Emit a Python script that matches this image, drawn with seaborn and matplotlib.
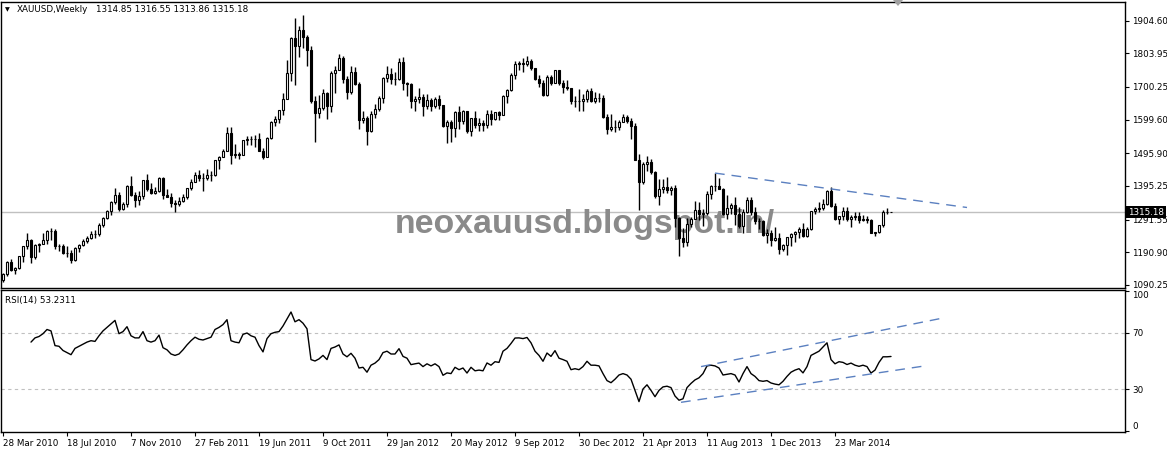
import matplotlib
matplotlib.use("Agg")
import matplotlib.pyplot as plt
from matplotlib.patches import Polygon
import seaborn as sns
import numpy as np
import pandas as pd

# weekly XAUUSD bars, first bar = week of 28 Mar 2010
opens = [
    1105, 1125, 1161, 1136, 1142, 1179, 1209, 1228, 1177, 1212, 1217, 1228, 1256, 1256, 1210, 1210,
    1189, 1189, 1168, 1204, 1214, 1227, 1234, 1246, 1246, 1275, 1298, 1318, 1345, 1368, 1325, 1340,
    1394, 1367, 1352, 1363, 1413, 1385, 1375, 1380, 1421, 1369, 1360, 1343, 1341, 1349, 1362, 1388,
    1409, 1429, 1421, 1419, 1428, 1429, 1474, 1486, 1504, 1557, 1491, 1493, 1491, 1536, 1541, 1541,
    1539, 1502, 1486, 1542, 1592, 1602, 1628, 1663, 1742, 1852, 1828, 1876, 1855, 1813, 1657, 1620,
    1636, 1682, 1642, 1743, 1752, 1788, 1724, 1686, 1746, 1710, 1597, 1606, 1565, 1617, 1631, 1665,
    1727, 1740, 1725, 1725, 1776, 1711, 1709, 1656, 1663, 1668, 1642, 1660, 1642, 1663, 1644, 1579,
    1592, 1573, 1622, 1595, 1627, 1566, 1604, 1582, 1590, 1584, 1618, 1603, 1622, 1615, 1672, 1692,
    1738, 1770, 1773, 1772, 1780, 1758, 1724, 1712, 1677, 1731, 1714, 1751, 1712, 1701, 1696, 1657,
    1658, 1657, 1662, 1687, 1657, 1667, 1667, 1609, 1572, 1576, 1577, 1592, 1608, 1596, 1581, 1476,
    1406, 1462, 1470, 1437, 1365, 1387, 1393, 1383, 1388, 1298, 1234, 1223, 1278, 1294, 1322, 1310,
    1312, 1371, 1396, 1395, 1387, 1308, 1326, 1338, 1310, 1272, 1314, 1352, 1315, 1287, 1288, 1244,
    1250, 1230, 1235, 1202, 1212, 1238, 1247, 1254, 1264, 1240, 1262, 1318, 1323, 1327, 1339, 1379,
    1335, 1294, 1303, 1318, 1294, 1300, 1302, 1289, 1293, 1292, 1250, 1252, 1274, 1315, 1314.85,
]
highs = [
    1127, 1164, 1170, 1146, 1180, 1210, 1249, 1232, 1218, 1221, 1250, 1261, 1265, 1262, 1218, 1215,
    1209, 1197, 1206, 1215, 1232, 1240, 1256, 1260, 1280, 1301, 1320, 1348, 1388, 1378, 1345, 1398,
    1425, 1376, 1380, 1415, 1432, 1405, 1392, 1424, 1424, 1387, 1375, 1351, 1360, 1370, 1389, 1416,
    1438, 1445, 1435, 1447, 1440, 1476, 1487, 1510, 1576, 1577, 1524, 1500, 1538, 1550, 1549, 1552,
    1559, 1512, 1545, 1594, 1610, 1628, 1682, 1782, 1853, 1912, 1889, 1921, 1860, 1826, 1672, 1675,
    1694, 1686, 1749, 1764, 1802, 1796, 1735, 1764, 1763, 1715, 1625, 1612, 1625, 1648, 1671, 1730,
    1764, 1760, 1745, 1790, 1792, 1716, 1713, 1673, 1697, 1680, 1678, 1667, 1668, 1675, 1646, 1598,
    1597, 1627, 1642, 1628, 1627, 1605, 1626, 1604, 1597, 1629, 1628, 1623, 1626, 1675, 1693, 1742,
    1779, 1780, 1788, 1796, 1786, 1760, 1737, 1723, 1738, 1737, 1754, 1754, 1723, 1721, 1698, 1671,
    1694, 1680, 1694, 1696, 1685, 1683, 1675, 1617, 1617, 1597, 1597, 1616, 1615, 1605, 1590, 1495,
    1469, 1488, 1477, 1440, 1417, 1417, 1424, 1395, 1398, 1300, 1267, 1297, 1299, 1348, 1347, 1323,
    1380, 1398, 1434, 1420, 1389, 1369, 1343, 1362, 1330, 1325, 1361, 1362, 1329, 1297, 1292, 1263,
    1261, 1268, 1250, 1216, 1239, 1249, 1256, 1270, 1280, 1268, 1318, 1332, 1345, 1355, 1384, 1392,
    1342, 1300, 1331, 1331, 1305, 1315, 1315, 1305, 1302, 1295, 1255, 1276, 1322, 1326, 1316.55,
]
lows = [
    1100, 1118, 1134, 1125, 1139, 1161, 1200, 1159, 1170, 1193, 1216, 1218, 1230, 1200, 1195, 1187,
    1177, 1157, 1163, 1192, 1210, 1219, 1232, 1236, 1240, 1270, 1293, 1307, 1340, 1318, 1320, 1330,
    1365, 1331, 1338, 1355, 1379, 1371, 1370, 1378, 1355, 1360, 1330, 1316, 1333, 1345, 1356, 1382,
    1407, 1410, 1380, 1415, 1412, 1425, 1448, 1483, 1502, 1462, 1480, 1478, 1490, 1521, 1522, 1515,
    1516, 1478, 1483, 1540, 1579, 1590, 1615, 1663, 1720, 1705, 1793, 1820, 1766, 1651, 1532, 1605,
    1630, 1601, 1623, 1683, 1752, 1714, 1662, 1680, 1707, 1570, 1588, 1522, 1563, 1605, 1625, 1650,
    1717, 1710, 1705, 1722, 1692, 1672, 1635, 1627, 1650, 1611, 1631, 1627, 1637, 1632, 1577, 1527,
    1532, 1545, 1571, 1586, 1560, 1548, 1575, 1565, 1566, 1573, 1583, 1600, 1598, 1614, 1652, 1688,
    1726, 1753, 1747, 1766, 1752, 1721, 1700, 1672, 1673, 1705, 1712, 1705, 1683, 1692, 1647, 1640,
    1626, 1626, 1655, 1654, 1652, 1655, 1605, 1555, 1565, 1562, 1567, 1591, 1590, 1540, 1476, 1321,
    1402, 1442, 1432, 1359, 1338, 1373, 1375, 1367, 1268, 1180, 1207, 1210, 1270, 1294, 1292, 1271,
    1305, 1355, 1380, 1385, 1305, 1293, 1310, 1276, 1267, 1251, 1311, 1305, 1278, 1264, 1241, 1221,
    1211, 1226, 1186, 1195, 1182, 1211, 1223, 1234, 1238, 1239, 1260, 1310, 1315, 1321, 1337, 1329,
    1290, 1277, 1291, 1286, 1268, 1291, 1282, 1286, 1282, 1250, 1240, 1250, 1270, 1310, 1313.86,
]
closes = [
    1125, 1161, 1136, 1142, 1179, 1209, 1228, 1177, 1212, 1217, 1228, 1256, 1256, 1210, 1210, 1189,
    1189, 1168, 1204, 1214, 1227, 1234, 1246, 1246, 1275, 1298, 1318, 1345, 1368, 1325, 1340, 1394,
    1367, 1352, 1363, 1413, 1385, 1375, 1380, 1421, 1369, 1360, 1343, 1341, 1349, 1362, 1388, 1409,
    1429, 1421, 1419, 1428, 1429, 1474, 1486, 1504, 1557, 1491, 1493, 1491, 1536, 1541, 1541, 1539,
    1502, 1486, 1542, 1592, 1602, 1628, 1663, 1742, 1852, 1828, 1876, 1855, 1813, 1657, 1620, 1636,
    1682, 1642, 1743, 1752, 1788, 1724, 1686, 1746, 1710, 1597, 1606, 1565, 1617, 1631, 1665, 1727,
    1740, 1725, 1725, 1776, 1711, 1709, 1656, 1663, 1668, 1642, 1660, 1642, 1663, 1644, 1579, 1592,
    1573, 1622, 1595, 1627, 1566, 1604, 1582, 1590, 1584, 1618, 1603, 1622, 1615, 1672, 1692, 1738,
    1770, 1773, 1772, 1780, 1758, 1724, 1712, 1677, 1731, 1714, 1751, 1712, 1701, 1696, 1657, 1658,
    1657, 1662, 1687, 1657, 1667, 1667, 1609, 1572, 1576, 1577, 1592, 1608, 1596, 1581, 1476, 1406,
    1462, 1470, 1437, 1365, 1387, 1393, 1383, 1388, 1298, 1234, 1223, 1278, 1294, 1322, 1310, 1312,
    1371, 1396, 1395, 1387, 1308, 1326, 1338, 1310, 1272, 1314, 1352, 1315, 1287, 1288, 1244, 1250,
    1230, 1235, 1202, 1212, 1238, 1247, 1254, 1264, 1240, 1262, 1318, 1323, 1327, 1339, 1379, 1335,
    1294, 1303, 1318, 1294, 1300, 1302, 1289, 1293, 1292, 1250, 1252, 1274, 1315, 1316, 1315.18,
]
# RSI(14) as read from the lower pane (first bars have no value)
rsi = [None] * 7 + [
    63.5, 66.5, 67.5, 69.5, 72.5, 71.5, 61, 60.5, 57.5, 56, 54.5, 59, 60.5, 62, 63.5, 64.5,
    64, 68, 71.5, 74, 76.5, 79, 69.5, 71, 74.5, 68, 66.5, 66.5, 71, 64.5, 63.5, 64.5,
    68.5, 59.5, 58, 55, 54, 55, 58, 61.5, 64.5, 67, 65.5, 65, 66, 67, 72.5, 74,
    76, 79.5, 64.5, 63.5, 63, 69, 70, 68, 67, 61, 56.5, 66, 69.5, 70.5, 71, 75,
    80, 85, 78, 79.5, 77, 73, 51, 50, 51.5, 54, 51, 59, 60, 61.5, 55, 53,
    55.5, 52, 45, 45.5, 42, 47, 48.5, 51, 56, 57, 55, 55, 58.8, 53.3, 52, 47.4,
    48, 48.5, 46, 48, 46.5, 48, 46, 39.8, 41.5, 41, 45.5, 43.8, 45, 41.4, 45.5, 43,
    43.5, 43, 48.6, 47, 49.5, 49, 57, 59, 62.5, 66.4, 66.5, 66, 66.8, 63, 57, 54,
    49.8, 55.7, 53.3, 57.4, 52, 51, 49.8, 43.8, 44.5, 43.8, 46, 49.8, 47, 47, 46.5, 41,
    36, 34.5, 37, 40, 41, 40, 37, 29, 21, 30, 33, 29, 24.5, 29, 31.5, 32,
    31, 25, 22, 23, 31, 34, 36.5, 38, 41, 46.5, 47, 46.5, 45, 40, 40.5, 41,
    40, 35, 41, 46, 41, 39, 36, 35.5, 36, 34.3, 33.5, 33, 35.5, 39, 42, 43.5,
    44.5, 41.5, 46, 54, 55.5, 57, 60, 63, 51, 48, 49.5, 49, 47.5, 48.5, 47, 46.2,
    47, 46, 41.4, 43.5, 49, 53, 53, 53.23,
]

date_bars = [0, 16, 32, 48, 64, 80, 96, 112, 128, 144, 160, 176, 192, 208]
date_labels = ["28 Mar 2010", "18 Jul 2010", "7 Nov 2010", "27 Feb 2011", "19 Jun 2011",
               "9 Oct 2011", "29 Jan 2012", "20 May 2012", "9 Sep 2012", "30 Dec 2012",
               "21 Apr 2013", "11 Aug 2013", "1 Dec 2013", "23 Mar 2014"]
price_ticks = [1904.60, 1803.95, 1700.25, 1599.60, 1495.90, 1395.25, 1291.55, 1190.90, 1090.25]
rsi_ticks = [100, 70, 30, 0]
rsi_levels = [70, 30]
last_bid = 1315.18

# hand drawn trend lines: (bar, value) endpoints
price_trend_bars = [178, 241]
price_trend_vals = [1435, 1329]
rsi_upper_bars = [174.5, 235]
rsi_upper_vals = [46, 80.7]
rsi_lower_bars = [169.5, 230]
rsi_lower_vals = [20.5, 46.3]

TREND_COLOR = "#5b80c0"
GRID_GRAY = "#c0c0c0"
FS = 6.3

sns.set_theme(style="white")
plt.rcParams['font.family'] = ['DejaVu Sans']

W, H = 1167, 449
fig = plt.figure(figsize=(W / 100, H / 100), dpi=100)
ax = fig.add_axes([1 / W, 1 - 288 / H, 1124 / W, 286 / H])
ax2 = fig.add_axes([1 / W, 1 - 432 / H, 1124 / W, 142 / H])

df = pd.DataFrame({"bar": np.arange(len(closes)), "open": opens, "high": highs,
                   "low": lows, "close": closes, "rsi": pd.array(rsi, dtype="Float64").astype(float)})
up = df["close"] >= df["open"]

# candles
ax.axhline(last_bid, color=GRID_GRAY, lw=1, zorder=1)
ax.vlines(df["bar"], df["low"], df["high"], color="black", lw=1, zorder=2)
ax.bar(df["bar"][up], (df["close"] - df["open"])[up], bottom=df["open"][up], width=0.7,
       facecolor="white", edgecolor="black", linewidth=0.8, zorder=3)
ax.bar(df["bar"][~up], (df["open"] - df["close"])[~up], bottom=df["close"][~up], width=0.7,
       facecolor="black", edgecolor="black", linewidth=0.8, zorder=3)
ax.plot(price_trend_bars, price_trend_vals, color=TREND_COLOR, lw=1, ls=(0, (7, 5)), zorder=4)

ax.set_xlim(-0.5, 280.5)
ax.set_ylim(1081, 1962)
ax.set_xticks([])
ax.yaxis.tick_right()
ax.set_yticks(price_ticks)
ax.set_yticklabels([f"{v:.2f}" for v in price_ticks], fontsize=FS, color="black")
ax.tick_params(axis="y", right=True, left=False, length=3, width=0.8, pad=2, color="black")

ax.text(395 / W, 1 - 233 / H, "neoxauusd.blogspot.in/", transform=fig.transFigure,
        fontsize=24.4, fontweight="bold", family="Liberation Sans", color="#8a8a8a",
        va="baseline", ha="left", zorder=1.5)

# RSI pane
for lvl in rsi_levels:
    ax2.axhline(lvl, color=GRID_GRAY, lw=0.8, ls=(0, (3, 3)), zorder=1)
sns.lineplot(data=df, x="bar", y="rsi", ax=ax2, color="black", lw=1, zorder=3)
ax2.plot(rsi_upper_bars, rsi_upper_vals, color=TREND_COLOR, lw=1, ls=(0, (7, 5)), zorder=4)
ax2.plot(rsi_lower_bars, rsi_lower_vals, color=TREND_COLOR, lw=1, ls=(0, (7, 5)), zorder=4)
ax2.set_xlim(-0.5, 280.5)
ax2.set_ylim(-0.7, 100.7)
ax2.set_xlabel("")
ax2.set_ylabel("")
ax2.yaxis.tick_right()
ax2.set_yticks(rsi_ticks)
ax2.set_yticklabels([str(v) for v in rsi_ticks], fontsize=FS, color="black")
ax2.get_yticklabels()[0].set_va("top")
ax2.get_yticklabels()[-1].set_va("bottom")
ax2.tick_params(axis="y", right=True, left=False, length=3, width=0.8, pad=2, color="black")
ax2.set_xticks(date_bars)
ax2.set_xticklabels(date_labels, fontsize=FS, color="black", ha="left")
ax2.tick_params(axis="x", bottom=True, length=3, width=0.8, pad=2, color="black")

for a in (ax, ax2):
    for s in a.spines.values():
        s.set_color("black")
        s.set_linewidth(1)

# header texts
fig.text(5 / W, 1 - 10 / H, "\u25bc", fontsize=4.5, va="center", ha="left", color="black")
fig.text(17 / W, 1 - 10 / H, "XAUUSD,Weekly", fontsize=FS, va="center", ha="left", color="black")
fig.text(96 / W, 1 - 10 / H, "1314.85 1316.55 1313.86 1315.18", fontsize=FS, va="center",
         ha="left", color="black")
fig.text(5 / W, 1 - 300 / H, "RSI(14) 53.2311", fontsize=FS, va="center", ha="left", color="black")

# bid price tag on the right axis
fig.text(1128 / W, 1 - 212 / H, f"{last_bid:.2f}", fontsize=FS, va="center", ha="left",
         color="white", bbox=dict(facecolor="black", edgecolor="none", pad=1.2))

# chart shift marker at the top
tri = Polygon([(893 / W, 1.0), (903 / W, 1.0), (898 / W, 1 - 6 / H)], closed=True,
              transform=fig.transFigure, facecolor="#a0a0a0", edgecolor="none")
fig.patches.append(tri)

fig.savefig("out.png", dpi=100)
